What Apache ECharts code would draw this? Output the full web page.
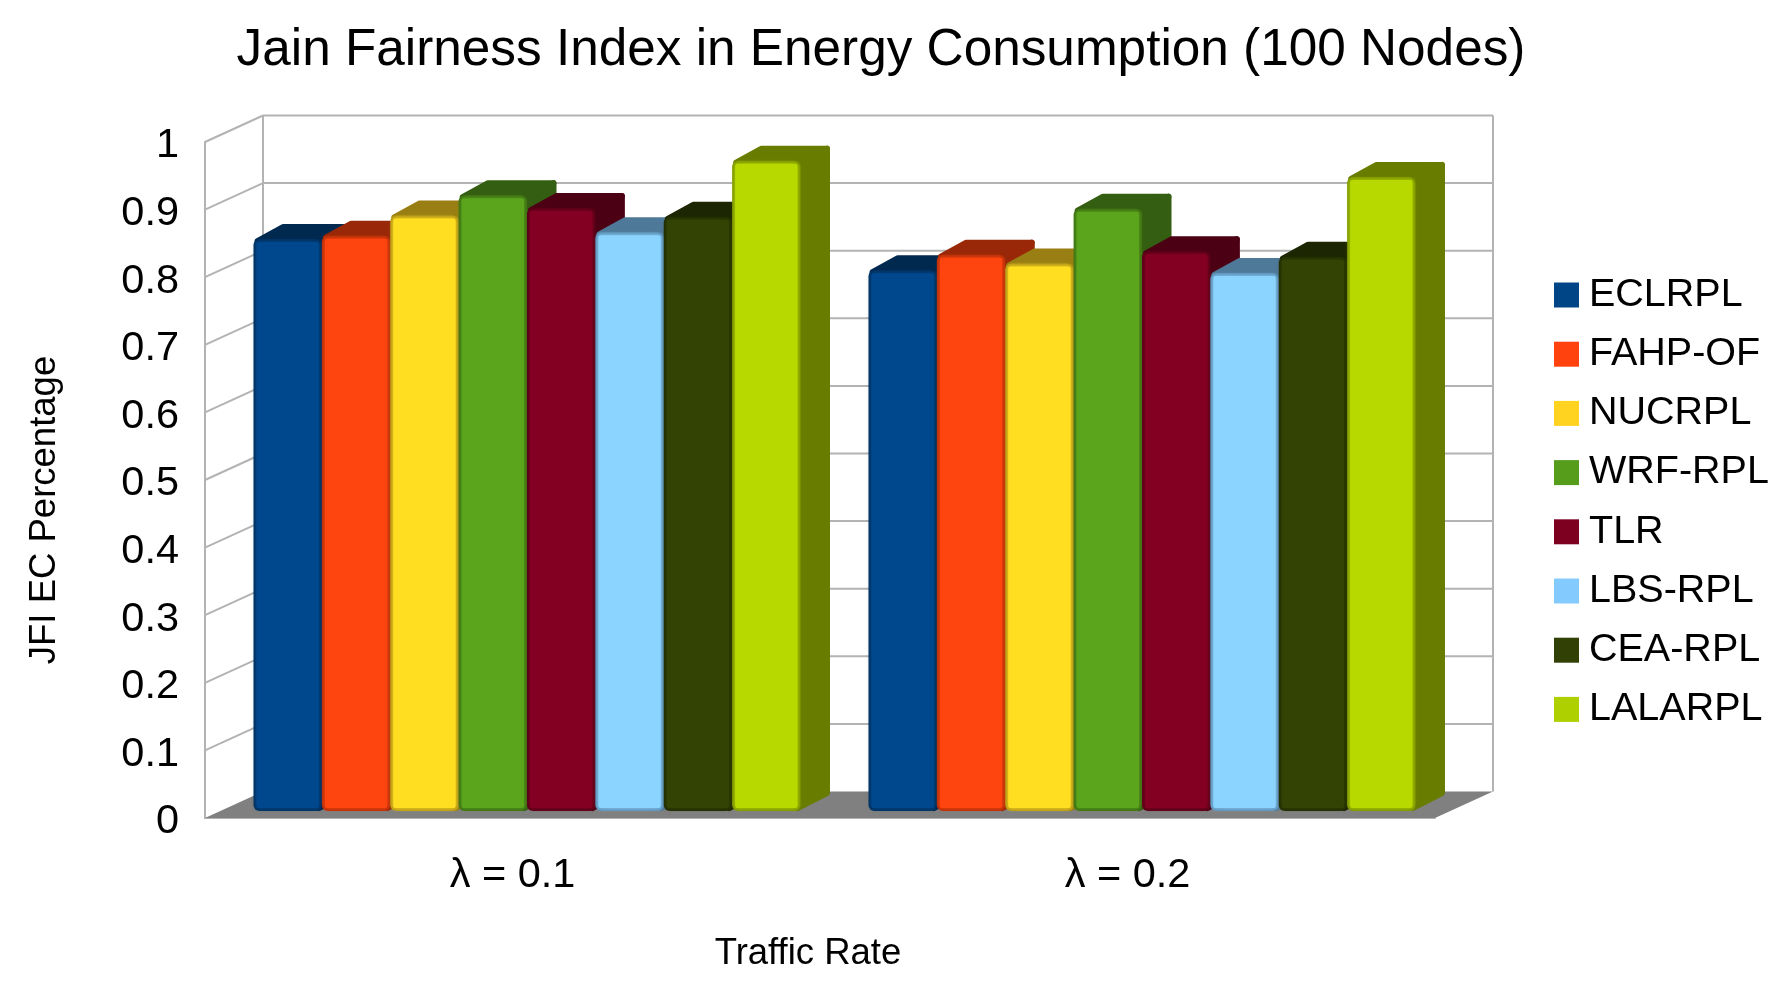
<!DOCTYPE html>
<html><head><meta charset="utf-8">
<style>html,body{margin:0;padding:0;background:#fff}#c{width:1784px;height:984px}</style>
<script src="https://cdn.jsdelivr.net/npm/echarts@6/dist/echarts.min.js"></script>
</head><body><div id="c"></div>
<script>
const categories = ['λ = 0.1', 'λ = 0.2'];
const yTicks = [0, 0.1, 0.2, 0.3, 0.4, 0.5, 0.6, 0.7, 0.8, 0.9, 1];
const ECLRPL = [0.846, 0.80];
const FAHP_OF = [0.851, 0.823];
const NUCRPL = [0.881, 0.81];
const WRF_RPL = [0.911, 0.891];
const TLR = [0.892, 0.828];
const LBS_RPL = [0.856, 0.796];
const CEA_RPL = [0.879, 0.82];
const LALARPL = [0.962, 0.938];
const names = ['ECLRPL', 'FAHP-OF', 'NUCRPL', 'WRF-RPL', 'TLR', 'LBS-RPL', 'CEA-RPL', 'LALARPL'];
const values = [ECLRPL, FAHP_OF, NUCRPL, WRF_RPL, TLR, LBS_RPL, CEA_RPL, LALARPL];
const colors = ['#004586', '#ff420e', '#ffd320', '#579d1c', '#7e0021', '#83caff', '#314004', '#aecf00'];

const FONT = '"Liberation Sans", Arial, sans-serif';
const WALL_DX = 58, WALL_DY = 26.5;
const GRID_COLOR = '#b3b3b3';
const SLOT = 547 / 615, OFF_X = 14.5, OFF_Y = 7, BAR_DX = 29.5, BAR_DY = 15;

function shade(hex, f) {
  const n = parseInt(hex.slice(1), 16);
  const c = [n >> 16, (n >> 8) & 255, n & 255].map(v => Math.min(255, Math.round(v * f)));
  return 'rgb(' + c.join(',') + ')';
}

function renderFrame(params, api) {
  const v = api.value(0);
  const cs = params.coordSys;
  const y = api.coord([0, v])[1];
  const xl = cs.x, xr = cs.x + cs.width;
  const line = (x1, y1, x2, y2) => ({
    type: 'line', shape: { x1, y1, x2, y2 },
    style: { stroke: GRID_COLOR, lineWidth: 2 }
  });
  const kids = [];
  if (v > 0) {
    kids.push(line(xl + WALL_DX, y - WALL_DY, xr + WALL_DX, y - WALL_DY));
    kids.push(line(xl, y, xl + WALL_DX, y - WALL_DY));
  }
  if (v === 0) {
    const top = cs.y - WALL_DY;
    kids.push(line(xl + WALL_DX, top, xl + WALL_DX, y - WALL_DY));
    kids.push(line(xr + WALL_DX, top, xr + WALL_DX, y - WALL_DY));
    kids.push({
      type: 'polygon',
      shape: { points: [[xl, y], [xl + WALL_DX, y - WALL_DY], [xr + WALL_DX, y - WALL_DY], [xr, y]] },
      style: { fill: '#808080' }
    });
  }
  return { type: 'group', children: kids };
}

function barRenderer(idx) {
  const base = colors[idx];
  const front = shade(base, 1.05), edge = shade(base, 0.72), dark = shade(base, 0.6);
  return function (params, api) {
    const cat = api.value(0), v = api.value(1);
    const band = api.size([1, 0])[0];
    const slot = band * SLOT, w = slot / 8;
    const p = api.coord([cat, v]), b = api.coord([cat, 0]);
    const x = p[0] + OFF_X - slot / 2 + idx * w;
    const top = p[1] - OFF_Y, bot = b[1] - OFF_Y, r = x + w;
    const face = (points) => ({
      type: 'polygon', shape: { points },
      style: { fill: dark, stroke: dark, lineWidth: 6, lineJoin: 'round' }
    });
    return {
      type: 'group',
      children: [
        face([[x + 4, top + 2], [x + BAR_DX, top - BAR_DY + 3], [r + BAR_DX - 3, top - BAR_DY + 3], [r, top + 3]]),
        face([[r - 3, top + 3], [r + BAR_DX - 3, top - BAR_DY + 3], [r + BAR_DX - 3, bot - BAR_DY - 3], [r - 3, bot - 3]]),
        { type: 'rect', shape: { x: x, y: top, width: w, height: bot - top, r: 6 }, style: { fill: edge } },
        { type: 'rect', shape: { x: x + 3, y: top + 3, width: w - 6, height: bot - top - 6, r: 2 },
          style: { fill: front, shadowBlur: 4, shadowColor: front } }
      ]
    };
  };
}

const series = [{
  type: 'custom', name: 'frame', silent: true, clip: false, z: 1,
  xAxisIndex: 0, yAxisIndex: 0,
  data: yTicks.map(v => [v]),
  encode: { y: 0 },
  renderItem: renderFrame
}].concat(names.map((name, i) => ({
  type: 'custom', name, clip: false, z: 3 + i,
  itemStyle: { color: colors[i] },
  data: values[i].map((v, c) => [c, v]),
  encode: { x: 0, y: 1 },
  renderItem: barRenderer(i)
})));

const chart = echarts.init(document.getElementById('c'), null, { renderer: 'canvas' });
chart.setOption({
  animation: false,
  backgroundColor: '#ffffff',
  textStyle: { fontFamily: FONT },
  title: {
    text: 'Jain Fairness Index in Energy Consumption (100 Nodes)',
    left: 876, top: 20, textAlign: 'center',
    textStyle: { fontFamily: FONT, fontSize: 51.3, fontWeight: 'normal', color: '#000' }
  },
  legend: {
    data: names, orient: 'vertical', left: 1549, top: 270,
    icon: 'rect', itemWidth: 25, itemHeight: 25, itemGap: 19.2, selectedMode: false,
    textStyle: { fontFamily: FONT, fontSize: 39.5, color: '#000', padding: [0, 0, 0, 5] }
  },
  grid: { left: 205, top: 142, width: 1230, height: 676, containLabel: false },
  xAxis: {
    type: 'category', data: categories,
    name: 'Traffic Rate', nameLocation: 'middle', nameGap: 117,
    nameTextStyle: { fontFamily: FONT, fontSize: 36.5, color: '#000', padding: [0, 24, 0, 0] },
    axisLine: { lineStyle: { color: GRID_COLOR, width: 2 } },
    axisTick: { show: false },
    axisLabel: { margin: 37, fontSize: 41.5, color: '#000', fontFamily: FONT }
  },
  yAxis: {
    type: 'value', min: 0, max: 1, interval: 0.1,
    name: 'JFI EC Percentage', nameLocation: 'middle', nameGap: 142,
    nameTextStyle: { fontFamily: FONT, fontSize: 36.5, color: '#000', padding: [0, 60, 0, 0] },
    axisLine: { show: true, lineStyle: { color: GRID_COLOR, width: 2 } },
    axisTick: { show: false },
    splitLine: { show: false },
    axisLabel: {
      margin: 26, color: '#000', formatter: '{v|{value}}',
      rich: { v: { fontSize: 41.5, color: '#000', fontFamily: FONT, padding: [8, 0, 0, 0] } }
    }
  },
  series
});
</script></body></html>
